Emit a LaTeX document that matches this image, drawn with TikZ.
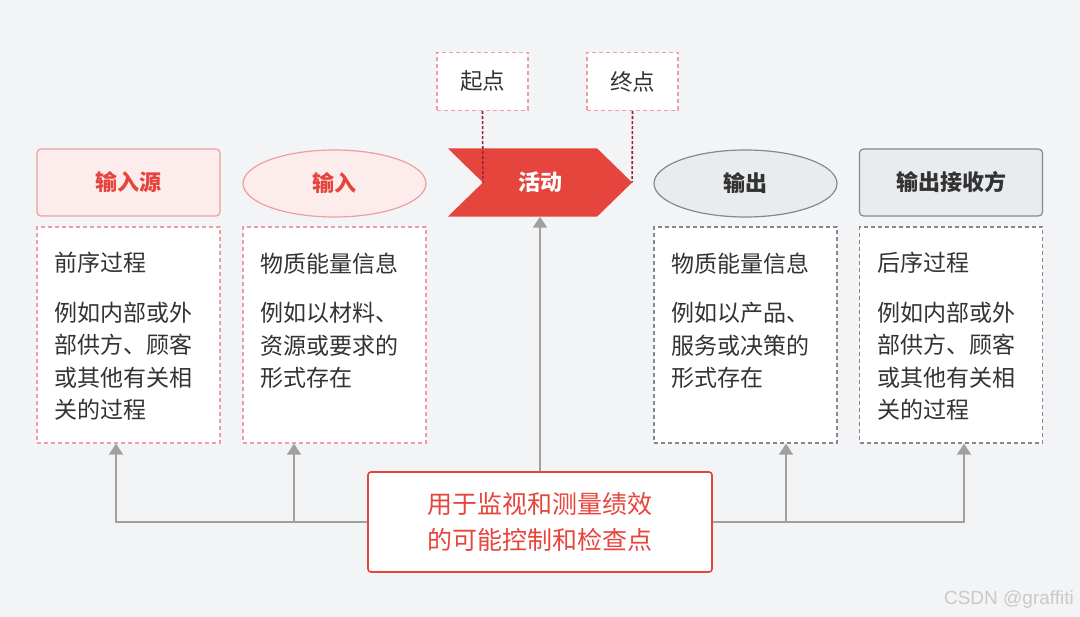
\documentclass[tikz,border=0pt]{standalone}
\usepackage{fontspec}
\setmainfont{Noto Sans CJK SC}
\newfontfamily\latinfont{Liberation Sans}
\usetikzlibrary{positioning,arrows.meta,shapes.geometric,calc}
\definecolor{bggray}{HTML}{F3F4F6}
\definecolor{redmain}{HTML}{E5453C}
\definecolor{pinkfill}{HTML}{FCECEC}
\definecolor{pinkline}{HTML}{EE9EA2}
\definecolor{darkred}{HTML}{9E1F35}
\definecolor{grayfill}{HTML}{E9ECEF}
\definecolor{grayline}{HTML}{85898E}
\definecolor{linkgray}{HTML}{A0A0A0}
\definecolor{textdark}{HTML}{333333}
\definecolor{wmgray}{HTML}{C9C9C9}

\begin{document}
\begin{tikzpicture}[x=1pt, y=-1pt,
  head/.style={minimum width=183pt, minimum height=67pt, inner sep=0pt, line width=1.2pt,
    font=\fontsize{22}{26}\selectfont\bfseries},
  notebox/.style={fill=white, dash pattern=on 4pt off 3pt, line width=1.3pt,
    minimum width=183pt, minimum height=216pt, inner sep=0pt},
  notetext/.style={anchor=north west, inner sep=0pt, align=left, text=textdark,
    font=\fontsize{23}{32.5}\selectfont},
  tagbox/.style={draw=pinkline, fill=white, dash pattern=on 4pt off 3pt, line width=1.3pt,
    minimum width=91pt, minimum height=58pt, inner sep=0pt, text=textdark,
    font=\fontsize{22.5}{26}\selectfont},
  link/.style={draw=linkgray, line width=1.6pt},
  uparrow/.style={-{Triangle[width=14pt,length=11pt]}}
]
% Background and frame
\fill[bggray] (0,0) rectangle (1080,617);
\useasboundingbox (0,0) rectangle (1080,617);

% Header row
\node[head, rounded corners=4pt, draw=pinkline, fill=pinkfill, text=redmain] (src) at (128.5,182.5) {输入源};
\node[head, ellipse, draw=pinkline, fill=pinkfill, text=redmain] (inp) at (334.5,183.5) {输入};
\node[head] (act) at (540,182.5) {};
\fill[redmain] (act.north west) -- ([xshift=-35pt]act.north east) -- (act.east)
  -- ([xshift=-35pt]act.south east) -- (act.south west) -- ([xshift=35pt]act.west) -- cycle;
\node[head, text=white] (acttext) at (act) {活动};
\coordinate (notch) at ([xshift=35pt]act.west);
\node[head, ellipse, draw=grayline, fill=grayfill, text=textdark] (out) at (745.5,183.5) {输出};
\node[head, rounded corners=4pt, draw=grayline, fill=grayfill, text=textdark] (rcv) at (951,182.5) {输出接收方};

% Start and end tags
\node[tagbox] (start) at (482.5,81.5) {起点};
\node[tagbox] (stop) at (632.5,81.5) {终点};
\draw[darkred, line width=1.6pt, dash pattern=on 3pt off 2pt] (start.south) -- (notch);
\draw[darkred, line width=1.6pt, dash pattern=on 3pt off 2pt] (stop.south) -- (act.east);

% Note boxes
\node[notebox, draw=pinkline] (srcnote) at (128.5,335) {};
\node[notebox, draw=pinkline] (inpnote) at (334.5,335) {};
\node[notebox, draw=grayline] (outnote) at (745.5,335) {};
\node[notebox, draw=grayline] (rcvnote) at (951,335) {};
\node[notetext] (srctext) at ([xshift=18pt, yshift=-26pt]srcnote.north west)
  {前序过程\\[17pt]例如内部或外\\部供方、顾客\\或其他有关相\\关的过程};
\node[notetext] (inptext) at ([xshift=18pt, yshift=-26pt]inpnote.north west)
  {物质能量信息\\[17pt]例如以材料、\\资源或要求的\\形式存在};
\node[notetext] (outtext) at ([xshift=18pt, yshift=-26pt]outnote.north west)
  {物质能量信息\\[17pt]例如以产品、\\服务或决策的\\形式存在};
\node[notetext] (rcvtext) at ([xshift=18pt, yshift=-26pt]rcvnote.north west)
  {后序过程\\[17pt]例如内部或外\\部供方、顾客\\或其他有关相\\关的过程};

% Control point
\node[draw=redmain, line width=1.6pt, fill=white, rounded corners=3pt, minimum width=344pt,
  minimum height=100pt, align=center, text=redmain, font=\fontsize{25}{36}\selectfont]
  (ctrl) at (540,522) {用于监视和测量绩效\\的可能控制和检查点};

% Connectors
\coordinate (srcend) at ([xshift=-12.5pt]srcnote.south);
\coordinate (inpend) at ([xshift=-40.5pt]inpnote.south);
\coordinate (outend) at ([xshift=40.5pt]outnote.south);
\coordinate (rcvend) at ([xshift=13pt]rcvnote.south);
\draw[link, uparrow] (ctrl.north) -- (act.south);
\draw[link, uparrow] (ctrl.west) -| (srcend);
\draw[link, uparrow] (ctrl.west -| inpend) -- (inpend);
\draw[link, uparrow] (ctrl.east) -| (rcvend);
\draw[link, uparrow] (ctrl.east -| outend) -- (outend);

% Watermark
\node[font=\latinfont\fontsize{19}{22}\selectfont, text=wmgray] (mark) at (1009,600) {CSDN @graffiti};
\end{tikzpicture}
\end{document}
